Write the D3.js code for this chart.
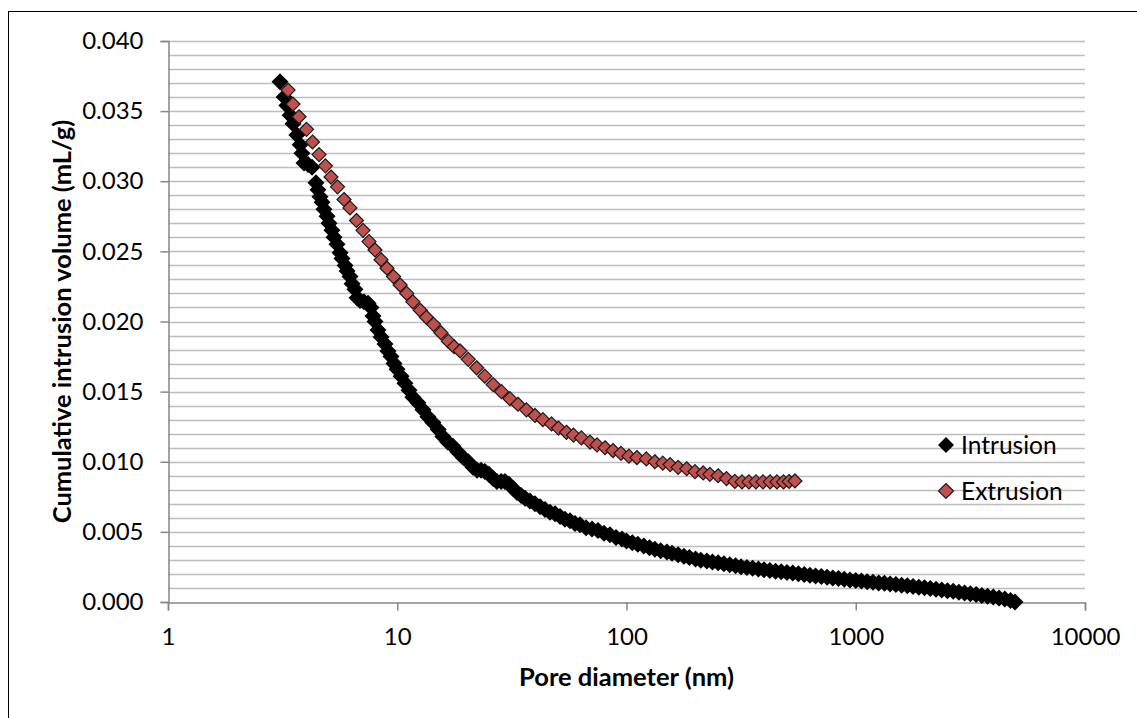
<!DOCTYPE html>
<html>
<head>
<meta charset="utf-8">
<script src="https://cdn.jsdelivr.net/npm/d3@7"></script>
<style>
  body { margin: 0; background: #fff; }
  svg { display: block; font-family: Lato, "Open Sans", sans-serif; }
</style>
</head>
<body>
<div id="chart"></div>
<script>
// pore diameter (nm) and cumulative volume (mL/g)
const intrusionD = [3.08, 3.21, 3.30, 3.41, 3.51, 3.65, 3.77, 3.84, 3.92, 4.08, 4.25, 4.42, 4.51, 4.60, 4.70, 4.79, 4.94, 5.04, 5.19, 5.30,
  5.46, 5.63, 5.74, 5.92, 6.04, 6.22, 6.35, 6.54, 6.68, 6.88, 7.16, 7.46, 7.68, 7.84, 8.00, 8.24, 8.50, 8.84, 9.11, 9.39,
  9.68, 9.98, 10.4, 10.8, 11.25, 11.7, 12.3, 12.95, 13.6, 14.3, 15.1, 15.8, 16.6, 17.5, 18.4, 19.4, 20.4, 21.4, 22.3, 23.2,
  24.1, 25.1, 26.2, 27.2, 28.4, 29.5, 30.7, 32.0, 33.3, 34.7, 36.1, 37.9, 39.9, 42.0, 44.1, 46.4, 48.8, 51.3, 53.9, 56.7,
  59.6, 62.7, 66.6, 70.7, 75.1, 79.8, 84.7, 90.0, 95.6, 100, 106, 112, 119, 126, 133, 141, 150, 158, 168, 178,
  188, 200, 211, 224, 237, 251, 266, 282, 299, 316, 335, 355, 376, 398, 422, 447, 473, 501, 531, 562,
  596, 631, 668, 708, 750, 794, 841, 891, 944, 1000, 1059, 1122, 1189, 1259, 1334, 1413, 1496, 1585, 1679, 1778,
  1884, 1995, 2113, 2239, 2371, 2512, 2661, 2818, 2985, 3162, 3350, 3548, 3758, 3981, 4217, 4467, 4732, 4950]
const intrusionV = [0.0371, 0.0360, 0.0354, 0.0347, 0.0341, 0.0333, 0.0326, 0.0320, 0.0313, 0.0312, 0.0310, 0.0299, 0.0294, 0.0289, 0.0285, 0.0280, 0.0275, 0.0270, 0.0265, 0.0260,
  0.0255, 0.0249, 0.0245, 0.0240, 0.0236, 0.0232, 0.0227, 0.0223, 0.0217, 0.0215, 0.0214, 0.0213, 0.0210, 0.0204, 0.0200, 0.0194, 0.0189, 0.0184, 0.0179, 0.0175,
  0.0170, 0.0166, 0.0161, 0.0156, 0.0151, 0.0146, 0.0142, 0.0137, 0.0132, 0.0128, 0.0123, 0.0118, 0.0114, 0.0111, 0.0107, 0.0103, 0.0100, 0.0096, 0.0094, 0.0094,
  0.0093, 0.0091, 0.0088, 0.0086, 0.0086, 0.0086, 0.0084, 0.0081, 0.0078, 0.0076, 0.0074, 0.0072, 0.0070, 0.0068, 0.0066, 0.0064, 0.0063, 0.0061, 0.0059, 0.0058,
  0.0056, 0.0055, 0.0053, 0.0052, 0.0051, 0.0049, 0.0048, 0.0046, 0.0045, 0.00435, 0.00423, 0.00411, 0.00399, 0.00386, 0.00376, 0.00366, 0.00357, 0.00347, 0.00337, 0.00327,
  0.00317, 0.00307, 0.00298, 0.00292, 0.00285, 0.00279, 0.00272, 0.00266, 0.00259, 0.00252, 0.00246, 0.00240, 0.00235, 0.00230, 0.00225, 0.00220, 0.00216, 0.00211, 0.00206, 0.00201,
  0.00196, 0.00191, 0.00186, 0.00181, 0.00176, 0.00172, 0.00167, 0.00162, 0.00157, 0.00153, 0.00149, 0.00145, 0.00141, 0.00136, 0.00133, 0.00128, 0.00124, 0.00120, 0.00115, 0.00110,
  0.00106, 0.00101, 0.00096, 0.00091, 0.00086, 0.00081, 0.00076, 0.00070, 0.00064, 0.00058, 0.00053, 0.00047, 0.00041, 0.00036, 0.00029, 0.00021, 0.00011, 0.00000]

const extrusionD = [3.34, 3.51, 3.73, 4.02, 4.27, 4.56, 4.86, 5.14, 5.49, 5.86, 6.22, 6.64, 7.09, 7.53, 8.00, 8.50, 9.02, 9.63, 10.3, 11.0,
  11.7, 12.6, 13.4, 14.4, 15.5, 16.7, 17.7, 18.8, 20.4, 22.2, 24.1, 26.2, 28.5, 31.0, 33.6, 36.6, 39.9, 43.2, 47.1, 50.5,
  54.7, 58.7, 63.6, 69.3, 74.4, 80.6, 87.3, 94.6, 102.5, 111, 122, 133, 144, 155, 168, 183, 199, 216, 231, 251,
  273, 297, 319, 342, 367, 394, 423, 453, 484, 512, 543]
const extrusionV = [0.0365, 0.0355, 0.0346, 0.0337, 0.0328, 0.0319, 0.0311, 0.0303, 0.0296, 0.0287, 0.0281, 0.0272, 0.0265, 0.0257, 0.0251, 0.0244, 0.0238, 0.0232, 0.0226, 0.0220,
  0.0214, 0.0208, 0.0203, 0.0198, 0.0192, 0.0186, 0.0182, 0.0179, 0.0173, 0.0167, 0.0161, 0.0155, 0.0150, 0.0145, 0.0141, 0.0137, 0.0133, 0.0130, 0.0127, 0.0124,
  0.0121, 0.0119, 0.0117, 0.0114, 0.0112, 0.0110, 0.0108, 0.0106, 0.0104, 0.0103, 0.0102, 0.0100, 0.0099, 0.0098, 0.0096, 0.0095, 0.0093, 0.0092, 0.0091, 0.0090,
  0.0088, 0.0086, 0.00856, 0.00856, 0.00856, 0.00856, 0.00856, 0.00856, 0.00856, 0.00859, 0.00863]

const xTicks = [1, 10, 100, 1000, 10000]
const yTicks = [0, 0.005, 0.010, 0.015, 0.020, 0.025, 0.030, 0.035, 0.040]
const yGrid = d3.range(0, 41).map(i => i / 1000)
const seriesNames = ["Intrusion", "Extrusion"]

var width = 1137
var height = 718
var margin = { top: 41, right: 52, bottom: 116, left: 168 }

var svg = d3.select("#chart")
    .append("svg")
    .attr("width", width)
    .attr("height", height)

// outer frame
svg.append("rect")
    .attr("x", 8.5).attr("y", 11.5)
    .attr("width", 1140).attr("height", 720)
    .style("fill", "none")
    .style("stroke", "#000")
    .style("stroke-width", "1px")

var x = d3.scaleLog()
    .domain([1, 10000])
    .range([margin.left, width - margin.right])
var y = d3.scaleLinear()
    .domain([0, 0.04])
    .range([height - margin.bottom, margin.top])

// horizontal gridlines every 0.001
svg.append("g")
    .selectAll("line")
    .data(yGrid.slice(1))
    .enter().append("line")
    .attr("x1", x(1)).attr("x2", x(10000))
    .attr("y1", d => Math.round(y(d)) + 0.5)
    .attr("y2", d => Math.round(y(d)) + 0.5)
    .style("stroke", "#bdbdbd")
    .style("stroke-width", "1.3px")

// axes
var yAxis = svg.append("g")
    .attr("transform", "translate(" + (x(1) + 0.5) + ",0)")
    .call(d3.axisLeft(y).tickValues(yTicks).tickFormat(d3.format(".3f")).tickSize(8).tickPadding(17))
var xAxis = svg.append("g")
    .attr("transform", "translate(0," + (Math.round(y(0)) + 0.5) + ")")
    .call(d3.axisBottom(x).tickValues(xTicks).tickFormat(d3.format("d")).tickSize(8).tickPadding(17))

for (const ax of [xAxis, yAxis]) {
    ax.select(".domain").style("stroke", "#868686").style("stroke-width", "1.5px")
    ax.selectAll(".tick line").style("stroke", "#868686").style("stroke-width", "1.5px")
    ax.selectAll(".tick text")
        .style("font-family", "Lato, sans-serif")
        .style("font-size", "24px")
        .style("fill", "#000")
}

// axis titles
svg.append("text")
    .attr("x", (x(1) + x(10000)) / 2)
    .attr("y", 686)
    .style("text-anchor", "middle")
    .style("font-size", "25.5px")
    .style("font-weight", "bold")
    .text("Pore diameter (nm)")
svg.append("text")
    .attr("transform", "translate(71," + ((y(0) + y(0.04)) / 2) + ") rotate(-90)")
    .style("text-anchor", "middle")
    .style("font-size", "25.5px")
    .style("font-weight", "bold")
    .text("Cumulative intrusion volume (mL/g)")

function diamond(r) {
    return "M0," + (-r) + "L" + r + ",0L0," + r + "L" + (-r) + ",0Z"
}

// Intrusion, then Extrusion on top
svg.append("g")
    .selectAll("path")
    .data(d3.range(intrusionD.length))
    .enter().append("path")
    .attr("transform", i => "translate(" + x(intrusionD[i]) + "," + y(intrusionV[i]) + ")")
    .attr("d", diamond(8.5))
    .style("fill", "#000")

svg.append("g")
    .selectAll("path")
    .data(d3.range(extrusionD.length))
    .enter().append("path")
    .attr("transform", i => "translate(" + x(extrusionD[i]) + "," + y(extrusionV[i]) + ")")
    .attr("d", diamond(7))
    .style("fill", "#c0504d")
    .style("stroke", "#1a1a1a")
    .style("stroke-width", "1.2px")

// legend
var legend = svg.append("g")
    .selectAll("g")
    .data(seriesNames)
    .enter().append("g")
    .attr("transform", (d, i) => "translate(946," + (445 + i * 46) + ")")
legend.append("path")
    .attr("d", (d, i) => diamond(i == 0 ? 8 : 7.5))
    .style("fill", (d, i) => i == 0 ? "#000" : "#c0504d")
    .style("stroke", (d, i) => i == 0 ? "none" : "#1a1a1a")
    .style("stroke-width", "1.2px")
legend.append("text")
    .attr("x", 15)
    .attr("y", 9)
    .style("font-size", "24.5px")
    .text(d => d)
</script>
</body>
</html>
